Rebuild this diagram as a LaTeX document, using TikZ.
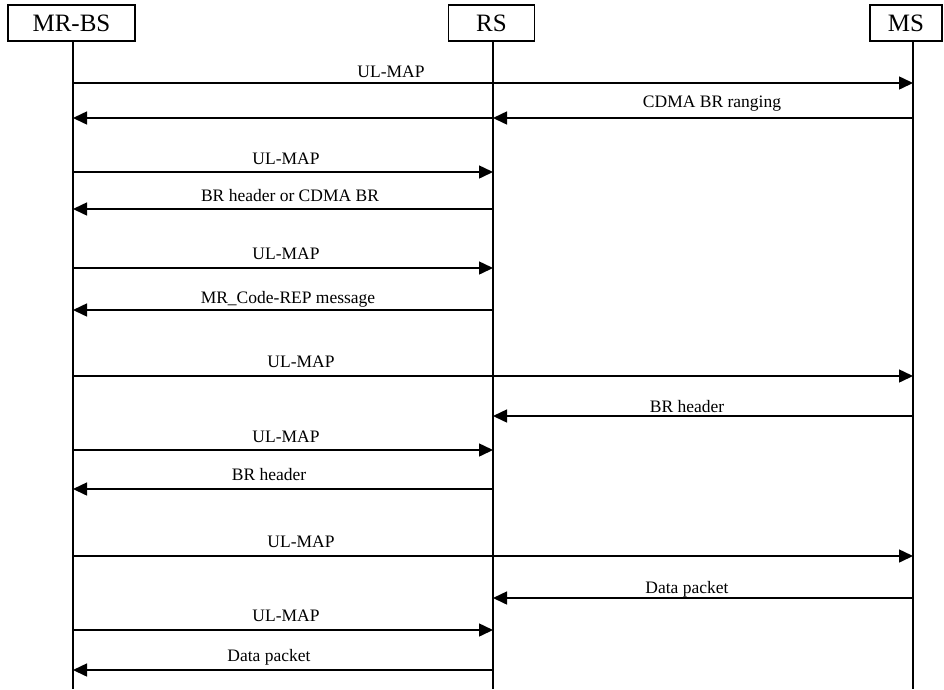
\documentclass[tikz,border=0pt]{standalone}
\usepackage{fontspec}
\setmainfont{Liberation Serif}
\usetikzlibrary{arrows.meta,calc}
\begin{document}
\begin{tikzpicture}[x=1pt,y=-1pt,
  ent/.style={draw,line width=1.3pt,inner sep=0pt,minimum height=36pt,font=\fontsize{25}{28}\selectfont},
  life/.style={line width=1.4pt},
  msg/.style={line width=1.5pt,-{Triangle[length=14pt,width=13pt]}},
  lbl/.style={inner sep=0pt,anchor=base,font=\fontsize{17.5}{20}\selectfont}]
\useasboundingbox (0,0) rectangle (944,689);
\node[ent,minimum width=127pt] (mrbs) at (71.5,23) {MR-BS};
\node[ent,minimum width=86pt] (rs) at (491.5,23) {RS};
\node[ent,minimum width=72pt] (ms) at (906,23) {MS};
\coordinate (A) at (73,0);
\coordinate (B) at (493,0);
\coordinate (C) at (913,0);
\coordinate (Aend) at (73,689);
\coordinate (Bend) at (493,689);
\coordinate (Cend) at (913,689);
\draw[life] (A |- mrbs.south) -- (Aend);
\draw[life] (B |- rs.south) -- (Bend);
\draw[life] (C |- ms.south) -- (Cend);
% 1
\draw[msg] ($(A)+(0,83)$) -- ($(C)+(0,83)$);
\node[lbl] (t1) at (391,77) {UL-MAP};
% 2
\draw[msg] ($(C)+(0,118)$) -- ($(B)+(0,118)$);
\draw[msg] ($(B)+(0,118)$) -- ($(A)+(0,118)$);
\node[lbl] (t2) at (712,107) {CDMA BR ranging};
% 3
\draw[msg] ($(A)+(0,172)$) -- ($(B)+(0,172)$);
\node[lbl] (t3) at (286,164) {UL-MAP};
% 4
\draw[msg] ($(B)+(0,209)$) -- ($(A)+(0,209)$);
\node[lbl] (t4) at (290,201) {BR header or CDMA BR};
% 5
\draw[msg] ($(A)+(0,268)$) -- ($(B)+(0,268)$);
\node[lbl] (t5) at (286,259) {UL-MAP};
% 6
\draw[msg] ($(B)+(0,310)$) -- ($(A)+(0,310)$);
\node[lbl] (t6) at (288,303) {MR\_Code-REP message};
% 7
\draw[msg] ($(A)+(0,376)$) -- ($(C)+(0,376)$);
\node[lbl] (t7) at (301,367) {UL-MAP};
% 8
\draw[msg] ($(C)+(0,416)$) -- ($(B)+(0,416)$);
\node[lbl] (t8) at (687,412) {BR header};
% 9
\draw[msg] ($(A)+(0,450)$) -- ($(B)+(0,450)$);
\node[lbl] (t9) at (286,442) {UL-MAP};
% 10
\draw[msg] ($(B)+(0,489)$) -- ($(A)+(0,489)$);
\node[lbl] (t10) at (269,480) {BR header};
% 11
\draw[msg] ($(A)+(0,556)$) -- ($(C)+(0,556)$);
\node[lbl] (t11) at (301,547) {UL-MAP};
% 12
\draw[msg] ($(C)+(0,598)$) -- ($(B)+(0,598)$);
\node[lbl] (t12) at (687,593) {Data packet};
% 13
\draw[msg] ($(A)+(0,630)$) -- ($(B)+(0,630)$);
\node[lbl] (t13) at (286,621) {UL-MAP};
% 14
\draw[msg] ($(B)+(0,670)$) -- ($(A)+(0,670)$);
\node[lbl] (t14) at (269,661) {Data packet};
\end{tikzpicture}
\end{document}
